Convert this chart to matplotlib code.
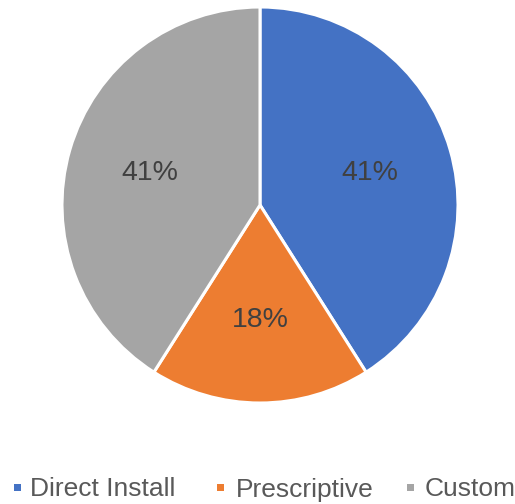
import matplotlib
matplotlib.use("Agg")
import matplotlib.pyplot as plt
from matplotlib.patches import Rectangle

categories = ["Direct Install", "Prescriptive", "Custom"]
shares = [41, 18, 41]
colors = ["#4472C4", "#ED7D31", "#A5A5A5"]

plt.rcParams["font.family"] = ["Liberation Sans", "DejaVu Sans"]

W, H = 515, 504
fig = plt.figure(figsize=(W / 100, H / 100), dpi=100)
fig.patch.set_facecolor("white")

cx, cy, r = 260, 205, 198
ax = fig.add_axes([(cx - r) / W, (H - cy - r) / H, 2 * r / W, 2 * r / H])
wedges, texts, autotexts = ax.pie(
    shares, colors=colors, startangle=90, counterclock=False, radius=1,
    autopct=lambda p: f"{p:.0f}%", pctdistance=0.58,
    wedgeprops=dict(edgecolor="white", linewidth=2.2),
    textprops=dict(fontsize=20.5, color="#404040"),
)
ax.set_xlim(-1.0, 1.0)
ax.set_ylim(-1.0, 1.0)
ax.set_aspect("equal")
ax.axis("off")

# Legend row along the bottom: small square swatch followed by its label
legend_y = 1 - 487 / H
swatch_x = [17, 220, 410]
label_x = [30, 236, 425]
sq = 7
for c, name, sx, lx in zip(colors, categories, swatch_x, label_x):
    fig.add_artist(Rectangle(((sx - sq / 2) / W, legend_y - sq / 2 / H), sq / W, sq / H,
                             transform=fig.transFigure, facecolor=c, edgecolor="none"))
    fig.text(lx / W, legend_y, name, ha="left", va="center_baseline",
             fontsize=19, color="#595959")

fig.savefig("out.png", dpi=100, facecolor="white")
